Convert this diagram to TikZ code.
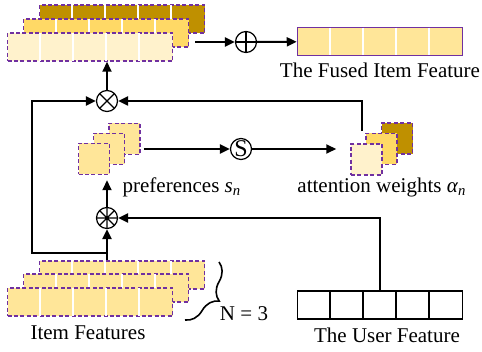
\documentclass[tikz,border=0pt]{standalone}
\usepackage{fontspec}
\setmainfont{Liberation Serif}
\newfontfamily\tnr{Liberation Serif}
\usetikzlibrary{arrows.meta,decorations.pathreplacing}
\definecolor{cream}{HTML}{FFF2CC}
\definecolor{lgold}{HTML}{FFE699}
\definecolor{mgold}{HTML}{FFD966}
\definecolor{dgold}{HTML}{BF9000}
\definecolor{vio}{HTML}{7030A0}

\begin{document}
\begin{tikzpicture}[line width=1pt, x=0.5pt, y=-0.5pt,
    >={Triangle[length=5pt,width=4.5pt]},
    font=\tnr\fontsize{10.5}{12}\selectfont,
    bar/.style={draw=vio, dash pattern=on 2pt off 1.2pt, line width=0.75pt,
        minimum width=82.5pt, minimum height=14pt, inner sep=0pt},
    sq/.style={draw=vio, dash pattern=on 2pt off 1.2pt, line width=0.75pt,
        minimum size=15.5pt, inner sep=0pt},
    op/.style={circle, draw, line width=0.6pt, minimum size=10.5pt, inner sep=0pt},
    otimes/.style={path picture={\draw[line width=0.6pt]
        (path picture bounding box.north west) -- (path picture bounding box.south east)
        (path picture bounding box.north east) -- (path picture bounding box.south west);}},
    oplus/.style={path picture={\draw[line width=0.6pt]
        (path picture bounding box.north) -- (path picture bounding box.south)
        (path picture bounding box.west) -- (path picture bounding box.east);}},
    ostar/.style={path picture={\draw[line width=0.6pt]
        (path picture bounding box.north west) -- (path picture bounding box.south east)
        (path picture bounding box.north east) -- (path picture bounding box.south west)
        (path picture bounding box.north) -- (path picture bounding box.south)
        (path picture bounding box.west) -- (path picture bounding box.east);}},
    cell/.style={white, line width=1pt, shorten <=0.4pt, shorten >=0.4pt}]
    \useasboundingbox (0,0) rectangle (482,352);

    % fused stack on top
    \foreach \n/\c/\px/\py in {topC/dgold/122/19, topB/mgold/106/33, topA/cream/90/47}{
        \node[bar, fill=\c] (\n) at (\px,\py) {};
        \foreach \i in {1,...,4}
            \draw[cell] ([xshift=\i*16.5pt]\n.north west) -- ([xshift=\i*16.5pt]\n.south west);
    }
    \node[bar, fill=lgold, solid] (fused) at (380,41.5) {};
    \foreach \i in {1,...,4}
        \draw[cell] ([xshift=\i*16.5pt]fused.north west) -- ([xshift=\i*16.5pt]fused.south west);

    % item features
    \foreach \n/\px/\py in {botC/122/275, botB/106/288, botA/90/302}{
        \node[bar, fill=lgold] (\n) at (\px,\py) {};
        \foreach \i in {1,...,4}
            \draw[cell] ([xshift=\i*16.5pt]\n.north west) -- ([xshift=\i*16.5pt]\n.south west);
    }
    \node[bar, draw=black, solid, line width=0.6pt] (user) at (380,305) {};
    \foreach \i in {1,...,4}
        \draw[line width=0.6pt] ([xshift=\i*16.5pt]user.north west) -- ([xshift=\i*16.5pt]user.south west);

    % preferences and weights
    \foreach \n/\px/\py in {prefC/124.5/139, prefB/109/149, prefA/94/159}
        \node[sq, fill=lgold] (\n) at (\px,\py) {};
    \foreach \n/\c/\px/\py in {attC/dgold/397/138.5, attB/mgold/381.5/149, attA/cream/366.5/159.5}
        \node[sq, fill=\c] (\n) at (\px,\py) {};

    \node[op, otimes] (mul) at (107,101) {};
    \node[op, oplus] (add) at (246,42) {};
    \node[op, font=\tnr\fontsize{12}{12}\selectfont] (soft) at (241,149) {S};
    \node[op, ostar] (dot) at (107,218) {};

    \node (fusedtxt) at (380,70) {The Fused Item Feature};
    \node[anchor=west] (preftxt) at (115,187) {preferences \textit{s}\textsubscript{\textit{n}}};
    \node (atttxt) at (382,187) {attention weights \textit{α}\textsubscript{\textit{n}}};
    \node (itemtxt) at (88,333) {Item Features};
    \node (ntxt) at (244,314) {N = 3};
    \node (usertxt) at (387,335) {The User Feature};

    \coordinate (split) at (107,253);
    \coordinate (turn) at (32,253);

    \draw[->] (mul) -- (mul |- topA.south);
    \draw[->] ([xshift=3pt]topB.east |- add) -- (add);
    \draw[->] (add) -- (fused);
    \draw[->] (dot |- botC.north) -- (dot);
    \draw[->] (split) -- (turn) |- (mul);
    \draw[->] ([xshift=-2.5pt,yshift=6pt]attA.north) |- (mul);
    \draw[->] (user) |- (dot);
    \draw[->, shorten >=2.5pt] (dot) -- (dot |- prefA.south);
    \draw[->] ([xshift=1.5pt]prefC.east |- soft) -- (soft);
    \draw[->, shorten >=7pt] (soft) -- (soft -| attA.west);
    \draw[line width=0.8pt, decorate, decoration={brace, amplitude=10pt}] (219,262) -- (185,320);
\end{tikzpicture}
\end{document}
